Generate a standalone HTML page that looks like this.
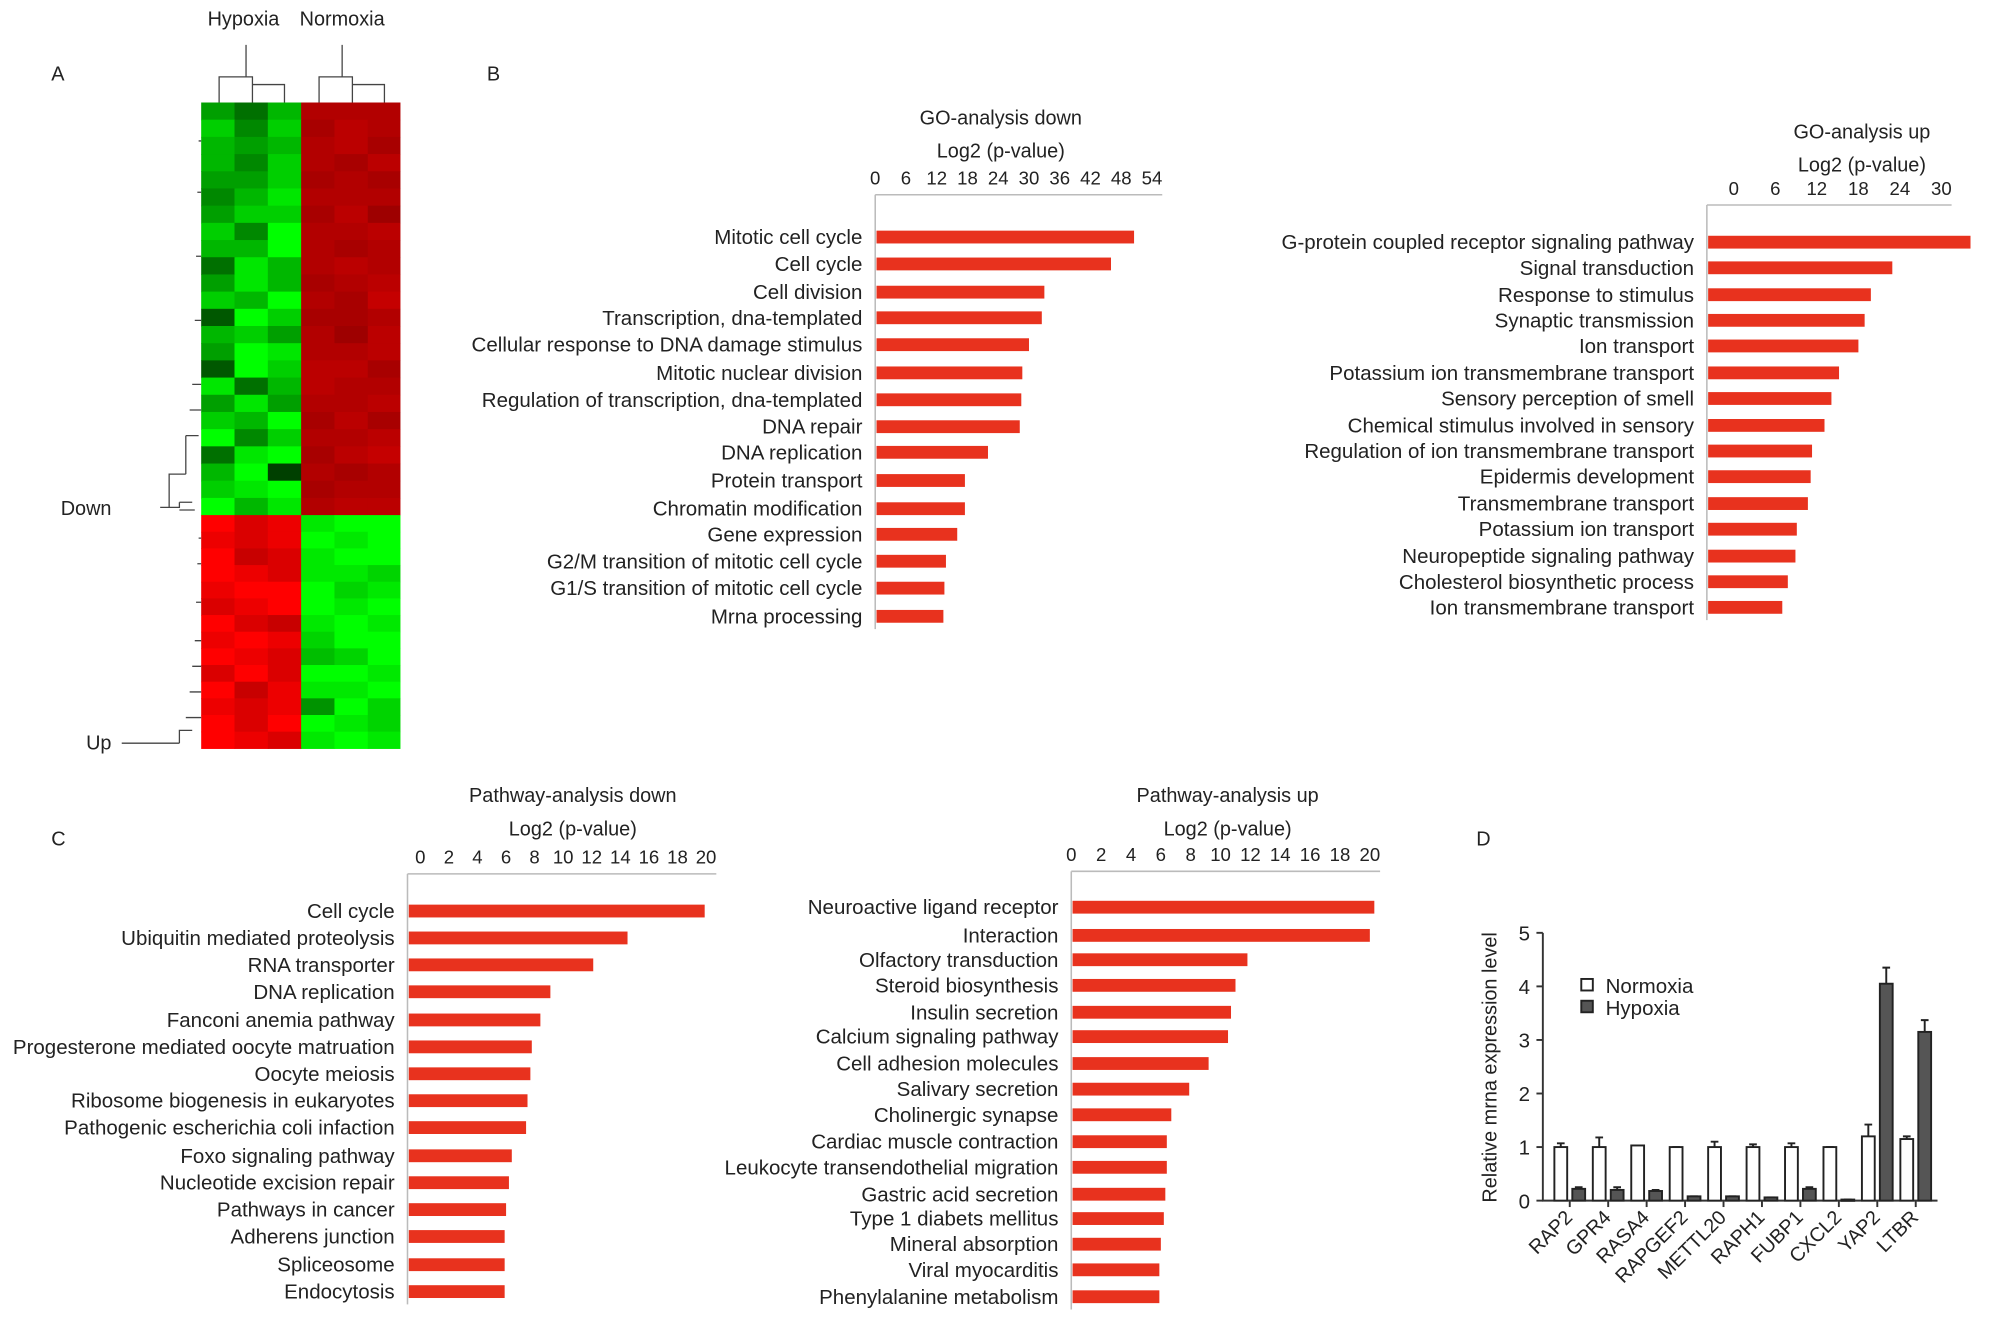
<!DOCTYPE html>
<html><head><meta charset="utf-8"><style>
html,body{margin:0;padding:0;background:#fff}
svg{display:block;font-family:"Liberation Sans",Arial,sans-serif}
</style></head><body>
<svg id="fig" width="2008" height="1323" viewBox="0 0 1567 1032.5" preserveAspectRatio="none" xmlns="http://www.w3.org/2000/svg">
<rect width="1567" height="1033" fill="#fff"/>
<g font-size="15.5" fill="#222">
<text x="40" y="63">A</text>
<text x="380" y="63">B</text>
<text x="40" y="660">C</text>
<text x="1152" y="660">D</text>
<text x="190" y="20" text-anchor="middle">Hypoxia</text>
<text x="267" y="20" text-anchor="middle">Normoxia</text>
<text x="87" y="402" text-anchor="end">Down</text>
<text x="87" y="585" text-anchor="end">Up</text>
</g>
<g id="heat"></g>
<g id="dendro" stroke="#444" stroke-width="1" fill="none"></g>
<g id="charts"></g>
</svg>
<script>
// ---------- heatmap data (intensity 0-9 per cell) ----------
const heatDownRows = ["536777","747687","656786","647768","557676","468777","577685","749778","669767","386787","586678","769769","297667","675758","598778","297886","836877","585778","769686","947778","389689","691767","789677","968788"];
const heatUpRows = ["978899","878989","967899","987887","899978","789989","976898","898799","987679","797998","968889","878497","979987","987898"];
// ---------- GO down ----------
const goDownCats = ["Mitotic cell cycle","Cell cycle","Cell division","Transcription, dna-templated","Cellular response to DNA damage stimulus","Mitotic nuclear division","Regulation of transcription, dna-templated","DNA repair","DNA replication","Protein transport","Chromatin modification","Gene expression","G2/M transition of mitotic cell cycle","G1/S transition of mitotic cell cycle","Mrna processing"];
const goDownVals = [50.5,46,33,32.5,30,28.7,28.5,28.2,22,17.5,17.5,16,13.8,13.5,13.3];
const goDownTicks = [0,6,12,18,24,30,36,42,48,54];
// ---------- GO up ----------
const goUpCats = ["G-protein coupled receptor signaling pathway","Signal transduction","Response to stimulus","Synaptic transmission","Ion transport","Potassium ion transmembrane transport","Sensory perception of smell","Chemical stimulus involved in sensory","Regulation of ion transmembrane transport","Epidermis development","Transmembrane transport","Potassium ion transport","Neuropeptide signaling pathway","Cholesterol biosynthetic process","Ion transmembrane transport"];
const goUpVals = [38.1,26.8,23.7,22.8,21.9,19.1,18,17,15.2,15,14.6,13,12.8,11.7,10.9];
const goUpTicks = [0,6,12,18,24,30];
// ---------- Pathway down ----------
const pwDownCats = ["Cell cycle","Ubiquitin mediated proteolysis","RNA transporter","DNA replication","Fanconi anemia pathway","Progesterone mediated oocyte matruation","Oocyte meiosis","Ribosome biogenesis in eukaryotes","Pathogenic escherichia coli infaction","Foxo signaling pathway","Nucleotide excision repair","Pathways in cancer","Adherens junction","Spliceosome","Endocytosis"];
const pwDownVals = [20.8,15.4,13,10,9.3,8.7,8.6,8.4,8.3,7.3,7.1,6.9,6.8,6.8,6.8];
const pwDownTicks = [0,2,4,6,8,10,12,14,16,18,20];
// ---------- Pathway up ----------
const pwUpCats = ["Neuroactive ligand receptor","Interaction","Olfactory transduction","Steroid biosynthesis","Insulin secretion","Calcium signaling pathway","Cell adhesion molecules","Salivary secretion","Cholinergic synapse","Cardiac muscle contraction","Leukocyte transendothelial migration","Gastric acid secretion","Type 1 diabets mellitus","Mineral absorption","Viral myocarditis","Phenylalanine metabolism"];
const pwUpVals = [20.3,20,11.8,11,10.7,10.5,9.2,7.9,6.7,6.4,6.4,6.3,6.2,6,5.9,5.9];
const pwUpTicks = [0,2,4,6,8,10,12,14,16,18,20];
// ---------- Panel D ----------
const dGenes = ["RAP2","GPR4","RASA4","RAPGEF2","METTL20","RAPH1","FUBP1","CXCL2","YAP2","LTBR"];
const dNormoxia = [1,1,1.03,1,1,1,1,1,1.2,1.15];
const dNormoxiaErr = [0.07,0.18,0,0,0.1,0.05,0.07,0,0.22,0.05];
const dHypoxia = [0.22,0.2,0.18,0.08,0.08,0.06,0.22,0.02,4.05,3.15];
const dHypoxiaErr = [0.03,0.05,0.02,0,0,0,0.03,0,0.3,0.22];
const dTicks = [0,1,2,3,4,5];

const NS="http://www.w3.org/2000/svg";
function mk(parent,tag,attrs,text){const e=document.createElementNS(NS,tag);for(const k in attrs)e.setAttribute(k,attrs[k]);if(text!==undefined)e.textContent=text;parent.appendChild(e);return e;}

// heatmap
const heat=document.getElementById('heat');
const colX=[157,183,209,235,261,287,312];
function drawBlock(rows,y0,y1,leftGreen){
  const h=(y1-y0)/rows.length;
  rows.forEach((r,i)=>{
    for(let c=0;c<6;c++){
      const v=+r[c]/9;
      const hyp=c<3;
      let col;
      if(leftGreen){ col = hyp ? `rgb(0,${Math.round(40+215*v)},0)` : `rgb(${Math.round(110+145*v*0.6)},0,0)`; }
      else { col = hyp ? `rgb(${Math.round(90+165*v)},0,0)` : `rgb(0,${Math.round(60+195*v)},0)`; }
      const cell=mk(heat,'rect',{x:colX[c],y:y0+i*h,width:colX[c+1]-colX[c]+0.5,height:h+0.5,fill:col});
      
      
    }
  });
}
drawBlock(heatDownRows,80,402,true);
drawBlock(heatUpRows,402,584,false);

// dendrogram
const dg=document.getElementById('dendro');
[["M192,35V60M171,80V60H197V80M197,60V66H222V80"],["M267,35V60M249,80V60H275V80M275,62V66H300V80"],
 ["M125,396H140V392M140,392H150M140,398H152M132,396V370H145M145,370V340M145,340H155M150,300H157M148,320H157M152,250H157M153,200H157M154,150H157M155,110H157"],
 ["M95,580H140M140,580V570H150M145,560H157M148,540H157M150,520H157M152,500H157M153,470H157M154,440H157M155,420H157"]]
 .forEach(p=>{const e=mk(dg,'path',{d:p[0]});});

const charts=document.getElementById('charts');
function barChart(o){
  const g=mk(charts,'g',{});
  
  
  const x=v=>o.x0+o.k*v;
  const t1=mk(g,'text',{x:o.tx,y:o.ty,'text-anchor':'middle','font-size':15.5,fill:'#222'},o.title);
  
  const t2=mk(g,'text',{x:o.tx,y:o.ty+26,'text-anchor':'middle','font-size':15.5,fill:'#222'},'Log2 (p-value)');
  
  o.ticks.forEach(t=>{const e=mk(g,'text',{x:x(t)+o.tickOff,y:o.axisY-8,'text-anchor':'middle','font-size':14.5,fill:'#222'},String(t));
    });
  const last=o.ticks[o.ticks.length-1];
  const ax=mk(g,'path',{d:`M${o.x0},${o.axisY}H${x(last)+o.tickOff+8}M${o.x0},${o.axisY}V${o.ys[o.ys.length-1]+10}`,stroke:'#bbb','stroke-width':1.2,fill:'none'});
  
  o.cats.forEach((c,i)=>{
    const y=o.ys[i];
    const l=mk(g,'text',{x:o.x0-10,y:y+5.5,'text-anchor':'end','font-size':16,fill:'#222'},c);
    
    const b=mk(g,'rect',{x:o.x0+1,y:y-5,width:x(o.vals[i])-o.x0-1,height:10,fill:'#e8321e'});
    
  });
}
barChart({name:'go-analysis-down-chart',title:'GO-analysis down',cats:goDownCats,vals:goDownVals,ticks:goDownTicks,x0:683,k:4,tickOff:0,axisY:152,tx:781,ty:97,ys:[185,206,228,248,269,291,312,333,353,375,397,417,438,459,481]});
barChart({name:'go-analysis-up-chart',title:'GO-analysis up',cats:goUpCats,vals:goUpVals,ticks:goUpTicks,x0:1332,k:5.4,tickOff:21,axisY:160,tx:1453,ty:108,ys:[189,209,230,250,270,291,311,332,352,372,393,413,434,454,474]});
barChart({name:'pathway-analysis-down-chart',title:'Pathway-analysis down',cats:pwDownCats,vals:pwDownVals,ticks:pwDownTicks,x0:318,k:11.15,tickOff:10,axisY:682,tx:447,ty:626,ys:[711,732,753,774,796,817,838,859,880,902,923,944,965,987,1008]});
barChart({name:'pathway-analysis-up-chart',title:'Pathway-analysis up',cats:pwUpCats,vals:pwUpVals,ticks:pwUpTicks,x0:836,k:11.65,tickOff:0,axisY:680,tx:958,ty:626,ys:[708,730,749,769,790,809,830,850,870,891,911,932,951,971,991,1012]});

// Panel D
(function(){
  const g=mk(charts,'g',{});
  
  const y0=937,ky=41.8,ax0=1204;
  const y=v=>y0-ky*v;
  const xc=i=>1225+30*i;
  const ax=mk(g,'path',{d:`M${ax0},${y(5)}V${y0}H1512`,stroke:'#333','stroke-width':1.5,fill:'none'});
  
  dTicks.forEach(t=>{
    const tk=mk(g,'path',{d:`M${ax0-5},${y(t)}H${ax0}`,stroke:'#333','stroke-width':1.5});
    
    const l=mk(g,'text',{x:ax0-10,y:y(t)+6,'text-anchor':'end','font-size':16,fill:'#222'},String(t));
    
  });
  const yl=mk(g,'text',{x:1168,y:833,'text-anchor':'middle','font-size':15.5,fill:'#222',transform:'rotate(-90 1168 833)'},'Relative mrna expression level');
  
  dGenes.forEach((gname,i)=>{
    const xn=xc(i)-7, xh=xc(i)+7;
    const tk=mk(g,'path',{d:`M${xc(i)},${y0}V${y0+5}`,stroke:'#333','stroke-width':1.5});
    
    const en=mk(g,'path',{d:`M${xn},${y(dNormoxia[i])}V${y(dNormoxia[i]+dNormoxiaErr[i])}M${xn-3},${y(dNormoxia[i]+dNormoxiaErr[i])}H${xn+3}`,stroke:'#222','stroke-width':1.5});
    
    const eh=mk(g,'path',{d:`M${xh},${y(dHypoxia[i])}V${y(dHypoxia[i]+dHypoxiaErr[i])}M${xh-3},${y(dHypoxia[i]+dHypoxiaErr[i])}H${xh+3}`,stroke:'#222','stroke-width':1.5});
    
    const bn=mk(g,'rect',{x:xn-5,y:y(dNormoxia[i]),width:10,height:y0-y(dNormoxia[i]),fill:'#fff',stroke:'#222','stroke-width':1.5});
    
    const bh=mk(g,'rect',{x:xh-5,y:y(dHypoxia[i]),width:10,height:Math.max(y0-y(dHypoxia[i]),1),fill:'#555',stroke:'#222','stroke-width':1.5});
    
    const lx=xc(i)+3, ly=y0+14;
    const l=mk(g,'text',{x:lx,y:ly,'text-anchor':'end','font-size':15.5,fill:'#222',transform:`rotate(-45 ${lx} ${ly})`},gname);
    
  });
  const ln=mk(g,'rect',{x:1234,y:764,width:9,height:9,fill:'#fff',stroke:'#222','stroke-width':1.5});
  
  const lt=mk(g,'text',{x:1253,y:775,'font-size':16,fill:'#222'},'Normoxia');
  
  const hn=mk(g,'rect',{x:1234,y:781,width:9,height:9,fill:'#555',stroke:'#222','stroke-width':1.5});
  
  const ht=mk(g,'text',{x:1253,y:792,'font-size':16,fill:'#222'},'Hypoxia');
  
})();
</script>
</body></html>
